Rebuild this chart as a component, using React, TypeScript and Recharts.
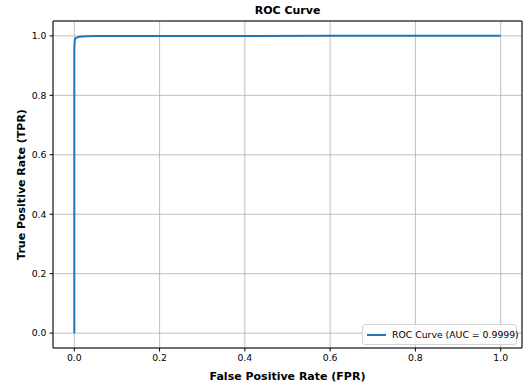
import React from "react";
import { LineChart, Line, XAxis, YAxis, CartesianGrid } from "recharts";

// ROC points (FPR, TPR)
const fpr = [0, 0, 0.0005, 0.001, 0.002, 0.004, 0.007, 0.012, 0.02, 0.03, 0.05, 0.1, 0.3, 0.6, 1.0];
const tpr = [0, 0.95, 0.975, 0.985, 0.99, 0.993, 0.995, 0.997, 0.998, 0.999, 0.9995, 0.9998, 0.9999, 1.0, 1.0];
const ticks = [0, 0.2, 0.4, 0.6, 0.8, 1.0];
const seriesName = "ROC Curve (AUC = 0.9999)";

const data = fpr.map((x, i) => ({ fpr: x, tpr: tpr[i] }));

const FONT = "'DejaVu Sans', sans-serif";
const BLUE = "#1f77b4";
const fmt = (v: number) => v.toFixed(1);
const tickStyle = { fill: "#000", fontSize: 9.3, fontFamily: FONT };
const titleStyle = { fontWeight: "bold", fontSize: 11, fill: "#000", fontFamily: FONT };

export default function App() {
  return (
    <div style={{ position: "absolute", left: 0, top: 0, width: 528, height: 385, background: "#fff", fontFamily: FONT }}>
      <div
        style={{
          position: "absolute",
          left: 53,
          width: 469,
          top: 4,
          textAlign: "center",
          fontWeight: "bold",
          fontSize: 11,
          color: "#000",
        }}
      >
        ROC Curve
      </div>
      <LineChart width={528} height={385} data={data} margin={{ top: 20, right: 5, bottom: 36, left: 13 }}>
        <CartesianGrid stroke="#b0b0b0" strokeWidth={0.8} />
        <XAxis
          dataKey="fpr"
          type="number"
          domain={[-0.05, 1.05]}
          ticks={ticks}
          tickFormatter={fmt}
          allowDataOverflow
          height={1}
          stroke="#000"
          tick={tickStyle}
          tickSize={3.5}
          tickMargin={3}
          label={{ value: "False Positive Rate (FPR)", position: "insideBottom", offset: -31, style: titleStyle }}
        />
        <XAxis xAxisId="top" orientation="top" height={1} type="number" domain={[0, 1]} tick={false} tickLine={false} stroke="#000" />
        <YAxis
          type="number"
          domain={[-0.05, 1.05]}
          ticks={ticks}
          tickFormatter={fmt}
          allowDataOverflow
          width={40}
          stroke="#000"
          tick={tickStyle}
          tickSize={3.5}
          tickMargin={3}
          label={{
            value: "True Positive Rate (TPR)",
            angle: -90,
            position: "insideLeft",
            offset: 8,
            style: { ...titleStyle, textAnchor: "middle" },
          }}
        />
        <YAxis yAxisId="right" orientation="right" width={1} type="number" domain={[0, 1]} tick={false} tickLine={false} stroke="#000" />
        <Line
          dataKey="tpr"
          name={seriesName}
          type="linear"
          stroke={BLUE}
          strokeWidth={2}
          dot={false}
          isAnimationActive={false}
        />
      </LineChart>
      <div
        style={{
          position: "absolute",
          left: 362,
          top: 324,
          width: 155,
          height: 21,
          boxSizing: "border-box",
          border: "1px solid #d5d5d5",
          borderRadius: 3,
          background: "rgba(255,255,255,0.8)",
          display: "flex",
          alignItems: "center",
          fontSize: 9.3,
          color: "#000",
          whiteSpace: "nowrap",
        }}
      >
        <div style={{ width: 19, height: 2, background: BLUE, marginLeft: 4, marginRight: 6, flexShrink: 0 }} />
        <span>{seriesName}</span>
      </div>
    </div>
  );
}
